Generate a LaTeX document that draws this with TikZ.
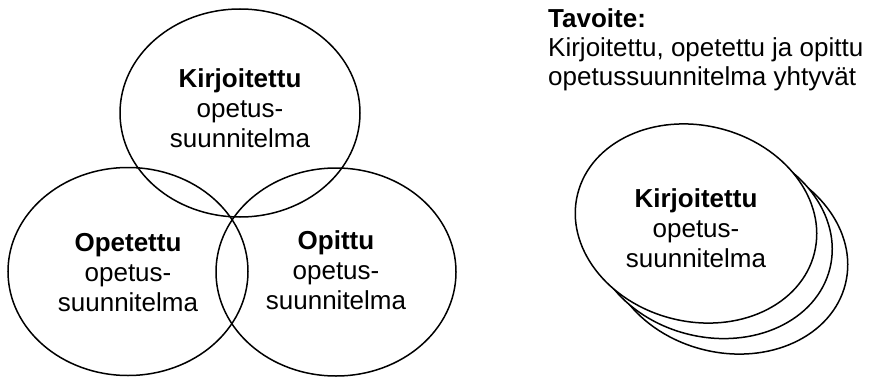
\documentclass[tikz,border=0pt]{standalone}
\usepackage{fontspec}
\setmainfont{Liberation Sans}
\usetikzlibrary{shapes.geometric}
\begin{document}
\begin{tikzpicture}[x=1pt,y=1pt,
  oval/.style={ellipse, draw=black, line width=1.5pt, inner sep=0pt, minimum width=240pt, minimum height=208pt},
  stackoval/.style={ellipse, draw=black, fill=white, line width=1.5pt, inner sep=0pt, minimum width=244pt, minimum height=196pt, rotate=-14},
  lbl/.style={align=center, inner sep=0pt, font=\fontsize{26}{30}\selectfont, text=black},
  goal/.style={align=left, inner sep=0pt, anchor=north west, font=\fontsize{26}{29}\selectfont, text=black}]
\useasboundingbox (0,0) rectangle (869,-377);
% Venn-like ellipses
\node[oval] (kirj) at (240,-113) {};
\node[oval] (opet) at (128,-271.5) {};
\node[oval] (opit) at (336,-272) {};
\node[lbl] (kirjtxt) at (240,-108.5) {\textbf{Kirjoitettu}\\opetus-\\suunnitelma};
\node[lbl] (opettxt) at (128,-272.5) {\textbf{Opetettu}\\opetus-\\suunnitelma};
\node[lbl] (opittxt) at (336,-270.5) {\textbf{Opittu}\\opetus-\\suunnitelma};
% Goal text
\node[goal] (goal) at (548,-8.4) {\textbf{Tavoite:}\\Kirjoitettu, opetettu ja opittu\\opetussuunnitelma yhtyvät};
% Stacked ellipses
\node[stackoval] (back) at (727,-254.5) {};
\node[stackoval] (mid) at (711.5,-239) {};
\node[stackoval] (front) at (696,-223.5) {};
\node[lbl] (fronttxt) at (696,-228.5) {\textbf{Kirjoitettu}\\opetus-\\suunnitelma};
\end{tikzpicture}
\end{document}
